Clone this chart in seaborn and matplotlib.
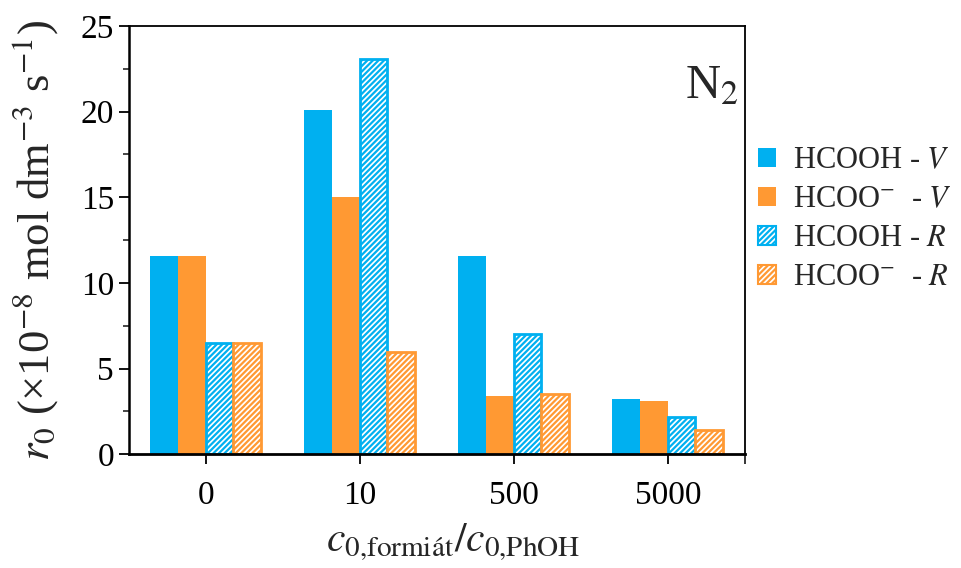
import matplotlib
matplotlib.use("Agg")
import matplotlib.pyplot as plt
from matplotlib.patches import Patch
from matplotlib.ticker import MultipleLocator, FixedLocator
import seaborn as sns
import pandas as pd

# Initial rates under N2 for each formate/phenol ratio
ratios = ["0", "10", "500", "5000"]
series = ["HCOOH - $V$", "HCOO$^{-}$  - $V$", "HCOOH - $R$", "HCOO$^{-}$  - $R$"]
hcooh_v = [11.6, 20.1, 11.6, 3.2]
hcoo_v = [11.6, 15.0, 3.4, 3.1]
hcooh_r = [6.5, 23.1, 7.0, 2.2]
hcoo_r = [6.5, 6.0, 3.5, 1.4]

blue = "#00b0f0"
orange = "#ff9933"
colors = [blue, orange, blue, orange]
hatched = [False, False, True, True]

rows = []
for name, vals in zip(series, [hcooh_v, hcoo_v, hcooh_r, hcoo_r]):
    for r, v in zip(ratios, vals):
        rows.append({"ratio": r, "series": name, "rate": v})
df = pd.DataFrame(rows)

sns.set_style("ticks")
plt.rcParams["font.family"] = ["Liberation Serif", "DejaVu Serif"]
plt.rcParams["mathtext.fontset"] = "stix"
plt.rcParams["hatch.linewidth"] = 1.6

fig = plt.figure(figsize=(9.62, 5.68), dpi=100)
ax = fig.add_axes([0.1337, 0.2002, 0.6405, 0.754])

sns.barplot(data=df, x="ratio", y="rate", hue="series", order=ratios,
            hue_order=series, palette=colors, width=0.72, gap=0,
            saturation=1, errorbar=None, legend=False, ax=ax)

for cont, col, h in zip(ax.containers, colors, hatched):
    for bar in cont:
        if h:
            bar.set_facecolor("white")
            bar.set_edgecolor(col)
            bar.set_hatch("//////")
            bar.set_linewidth(2.0)
        else:
            bar.set_edgecolor("none")

ax.set_xlim(-0.5, 3.5)
ax.set_ylim(0, 25)
ax.yaxis.set_major_locator(MultipleLocator(5))
ax.yaxis.set_minor_locator(MultipleLocator(2.5))
ax.xaxis.set_minor_locator(FixedLocator([3.5]))
ax.tick_params(axis="both", which="major", labelsize=24, length=7, width=1.3,
               colors="black", direction="out")
ax.tick_params(axis="y", which="minor", length=4, width=1.2, direction="out")
ax.tick_params(axis="x", which="minor", length=7, width=1.3, direction="out")
ax.tick_params(axis="x", pad=12)
for s in ax.spines.values():
    s.set_visible(True)
    s.set_linewidth(1.3)
    s.set_color("black")
ax.spines["bottom"].set_linewidth(2.0)
ax.spines["left"].set_linewidth(1.8)

ax.set_xlabel("$c_{0{,}\\mathrm{formiát}}/c_{0{,}\\mathrm{PhOH}}$", fontsize=30)
ax.xaxis.set_label_coords(0.526, -0.158)
ax.set_ylabel("$r_0$ (×10$^{-8}$ mol dm$^{-3}$ s$^{-1}$)", fontsize=32)
ax.yaxis.set_label_coords(-0.112, 0.5)

ax.text(0.99, 0.91, "N$_2$", transform=ax.transAxes, ha="right", va="top",
        fontsize=35)

handles = []
for col, h in zip(colors, hatched):
    if h:
        handles.append(Patch(facecolor="white", edgecolor=col, hatch="//////", linewidth=1.5))
    else:
        handles.append(Patch(facecolor=col, edgecolor="none"))
fig.legend(handles, series, loc="center left", bbox_to_anchor=(0.788, 0.614),
           frameon=False, fontsize=22, handlelength=0.6, handleheight=0.6,
           handletextpad=0.55, labelspacing=0.33, borderpad=0, borderaxespad=0)

fig.savefig("out.png", dpi=100)
